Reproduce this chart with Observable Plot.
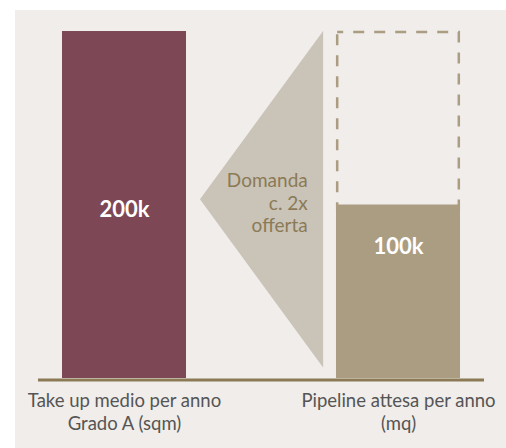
<!DOCTYPE html>
<html><head><meta charset="utf-8">
<script src="https://cdn.jsdelivr.net/npm/d3@7"></script>
<script src="https://cdn.jsdelivr.net/npm/@observablehq/plot@0.6"></script>
<style>
html,body{margin:0;padding:0;background:#fff;}
#chart{padding:10px 0 0 15px;width:491px;height:438px;}
#chart svg{display:block;}
</style></head><body><div id="chart"></div>
<script>
// ---- data ----
const categories = ["Take up medio per anno\nGrado A (sqm)", "Pipeline attesa per anno\n(mq)"];
const values = [200, 100];            // thousand sqm
const valueLabels = ["200k", "100k"];
const barColors = ["#7d4755", "#ab9d82"];
const wedgeY = [6, 103, 200];         // wedge (arrow) bottom, tip, top
const wedgeText = "Domanda\nc. 2x\nofferta";

// ---- layout helpers (positions computed in code) ----
const hw = 0.2263;                    // half bar width in category units
const wedgeRight = 1 - hw - 0.047;
const wedgeTip = hw + 0.051;
const labelY = [97, 76];

const bars = categories.map((c, i) => ({i, c, v: values[i], label: valueLabels[i], color: barColors[i]}));
const wedge = wedgeY.map((y, k) => ({y, x: k === 1 ? wedgeTip : wedgeRight}));

const font = "Lato, 'Open Sans', sans-serif";

const chart = Plot.plot({
  width: 491,
  height: 438,
  marginLeft: 109,
  marginRight: 108,
  marginTop: 21,
  marginBottom: 70,
  style: {background: "#f0edea", fontFamily: font, overflow: "visible"},
  x: {domain: [0, 1], axis: null},
  y: {domain: [0, 200], axis: null},
  marks: [
    // wedge
    Plot.areaX(wedge, {y: "y", x1: wedgeRight, x2: "x", fill: "#c9c3b8"}),
    // dashed outline (pipeline up to demand level)
    Plot.rect([bars[1]], {
      x1: d => d.i - hw, x2: d => d.i + hw,
      y1: d => d.v, y2: values[0],
      fill: "none", stroke: "#ab9d82", strokeWidth: 2.5,
      strokeDasharray: "11,10", strokeDashoffset: 5,
      insetLeft: 1.2, insetRight: 1.2, insetTop: 1, insetBottom: -4
    }),
    // bars
    Plot.rect(bars, {
      x1: d => d.i - hw, x2: d => d.i + hw,
      y1: 0, y2: "v", fill: "color"
    }),
    // baseline
    Plot.ruleY([0], {x1: -0.3139, x2: 1.3139, stroke: "#8b7a55", strokeWidth: 3, dy: 1.5}),
    // value labels
    Plot.text(bars, {
      x: "i", y: (d, k) => labelY[k], text: "label",
      fill: "white", fontSize: 22, fontWeight: "bold"
    }),
    // wedge text
    Plot.text([wedgeText], {
      x: wedgeRight - 0.058, y: 101.5, text: d => d,
      textAnchor: "end", fill: "#8b7a55", fontSize: 19, lineHeight: 1.18
    }),
    // category labels
    Plot.text(bars, {
      x: "i", y: 0, text: "c", lineAnchor: "top", dy: 12,
      fill: "#555555", fontSize: 18.5, lineHeight: 1.25
    })
  ]
});
document.getElementById("chart").appendChild(chart);
</script>
</body></html>
